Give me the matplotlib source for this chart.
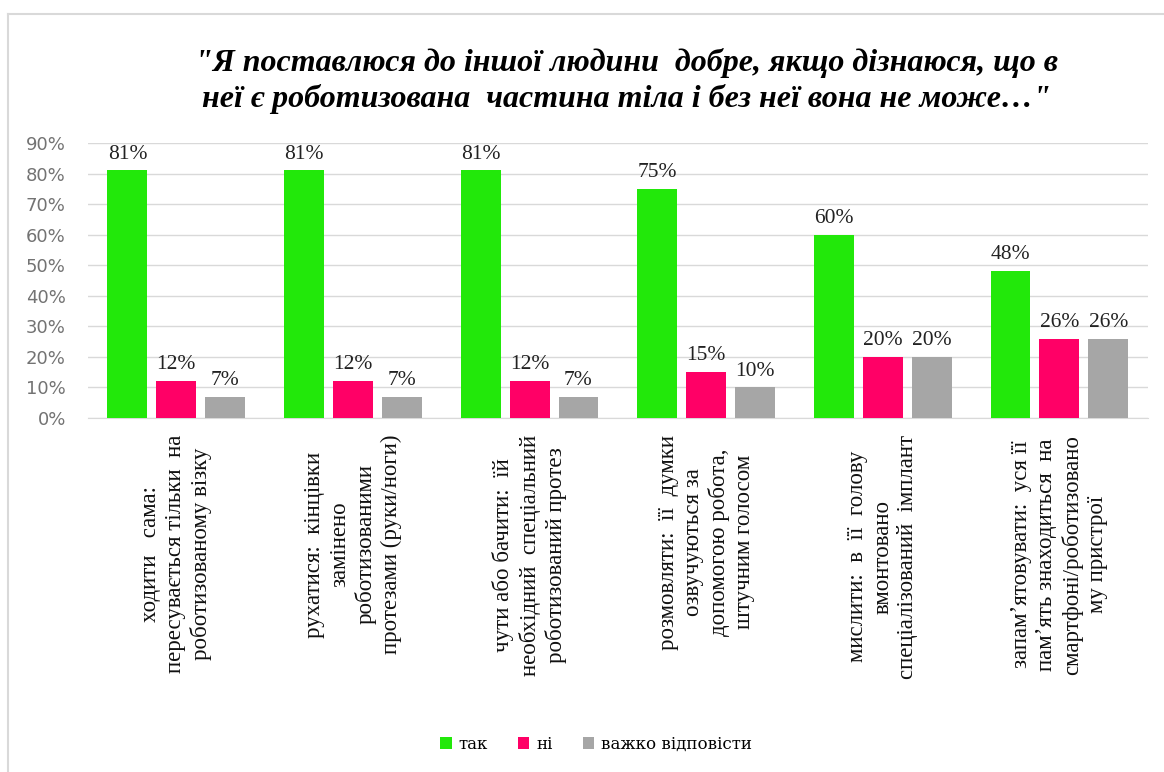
import matplotlib.pyplot as plt
import numpy as np

categories = [
    'ходити   сама:\nпересувається тільки  на\nроботизованому візку',
    'рухатися:  кінцівки\nзамінено\nроботизованими\nпротезами (руки/ноги)',
    'чути або бачити:  їй\nнеобхідний  спеціальний\nроботизований протез',
    'розмовляти:  її  думки\nозвучуються за\nдопомогою робота,\nштучним голосом',
    'мислити:  в  її  голову\nвмонтовано\nспеціалізований  імплант',
    'запамʼятовувати:  уся її\nпамʼять знаходиться  на\nсмартфоні/роботизовано\nму пристрої',
]
series_names = ['так', 'ні', 'важко відповісти']
yes_vals = [0.81, 0.81, 0.81, 0.75, 0.60, 0.48]
no_vals = [0.12, 0.12, 0.12, 0.15, 0.20, 0.26]
hard_vals = [0.07, 0.07, 0.07, 0.10, 0.20, 0.26]
colors = ['#22e80a', '#ff0066', '#a6a6a6']

title = ('"Я поставлюся до іншої людини  добре, якщо дізнаюся, що в\n'
         'неї є роботизована  частина тіла і без неї вона не може…"')

fig = plt.figure(figsize=(11.64, 7.72), dpi=100)
ax = fig.add_axes([0.0756, 0.4585, 0.9104, 0.3563])

x = np.arange(len(categories))
width = 0.226
offset = 0.277

for i, (vals, name, col) in enumerate(zip([yes_vals, no_vals, hard_vals], series_names, colors)):
    bars = ax.bar(x + (i - 1) * offset, vals, width, color=col, label=name, zorder=3)
    for b, v in zip(bars, vals):
        ax.annotate('{0:.0f}%'.format(v * 100), (b.get_x() + b.get_width() / 2, v),
                    xytext=(0, 5), textcoords='offset points', ha='center', va='bottom',
                    fontsize=15.5, family='Liberation Serif', color='#222222')

ax.set_xlim(-0.5, len(categories) - 0.5)
ax.set_ylim(0, 0.9)
ax.set_yticks(np.arange(0, 0.91, 0.1))
ax.set_yticklabels(['{0:.0f}%'.format(t * 100) for t in np.arange(0, 0.91, 0.1)])
ax.tick_params(axis='y', length=0, pad=16, labelsize=13, labelcolor='#737373')
ax.set_xticks(x)
ax.set_xticklabels(categories, rotation=90, family='Liberation Serif', fontsize=16.5,
                   multialignment='center', color='#111111', linespacing=1.25)
ax.tick_params(axis='x', length=0, pad=12)
ax.grid(axis='y', color='#d9d9d9', linewidth=1, zorder=0)
for s in ['top', 'right', 'left']:
    ax.spines[s].set_visible(False)
ax.spines['bottom'].set_color('#d9d9d9')

fig.text(0.538, 0.895, title, ha='center', va='center', fontsize=23,
         family='Liberation Serif', weight='bold', style='italic', linespacing=1.25)

fig.legend(loc='center', bbox_to_anchor=(0.512, 0.036), ncol=3, frameon=False,
           handlelength=0.7, handleheight=0.7, handletextpad=0.4, columnspacing=1.8,
           prop={'family': 'DejaVu Serif', 'size': 12})

# chart border
fig.add_artist(plt.Line2D([0.0069, 0.0069], [0.0, 0.982], color='#d9d9d9', lw=1.5))
fig.add_artist(plt.Line2D([0.0069, 1.0], [0.982, 0.982], color='#d9d9d9', lw=1.5))

plt.savefig('out.png', dpi=100)
